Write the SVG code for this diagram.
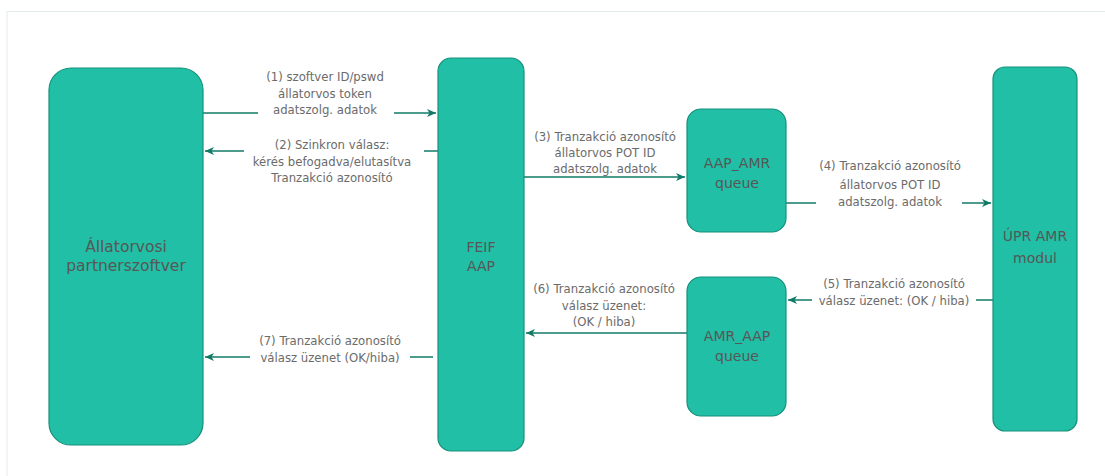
<svg xmlns="http://www.w3.org/2000/svg" width="1105" height="476" viewBox="0 0 1105 476">
<style>
.node{fill:#21bfa5;stroke:#16907c;stroke-width:1.2}
.nt{font-family:"DejaVu Sans","Liberation Sans",Arial,sans-serif;font-size:14px;fill:#575757;text-anchor:middle}
.edge{stroke:#117a67;stroke-width:1.3;fill:none}
.lbl{font-family:"DejaVu Sans","Liberation Sans",Arial,sans-serif;font-size:11.7px;fill:#6b6b6b;text-anchor:middle}
.bg{fill:#fff}
</style>
<defs>
<marker id="ah" markerWidth="10" markerHeight="8" refX="9" refY="4" orient="auto" markerUnits="userSpaceOnUse">
<path d="M0,0 L9,4 L0,8 L2.5,4 Z" fill="#117a67"/>
</marker>
</defs>
<rect x="0" y="0" width="1105" height="476" fill="#fff"/>
<rect x="7" y="11.5" width="1120" height="480" fill="none" stroke="#e3ebe9" stroke-width="1"/>

<g id="connectors">
<g id="e1"><path class="edge" d="M203,113 H436" marker-end="url(#ah)"/>
<rect class="bg" x="258" y="68" width="136" height="48"/>
<text class="lbl" x="325" y="81">(1) szoftver ID/pswd</text>
<text class="lbl" x="325" y="98">állatorvos token</text>
<text class="lbl" x="325" y="114">adatszolg. adatok</text></g>

<g id="e2"><path class="edge" d="M438,151 H205" marker-end="url(#ah)"/>
<rect class="bg" x="244" y="137" width="180" height="48"/>
<text class="lbl" x="332" y="149">(2) Szinkron válasz:</text>
<text class="lbl" x="332" y="166">kérés befogadva/elutasítva</text>
<text class="lbl" x="332" y="182">Tranzakció azonosító</text></g>

<g id="e3"><path class="edge" d="M524,177 H685" marker-end="url(#ah)"/>
<text class="lbl" x="605" y="141">(3) Tranzakció azonosító</text>
<text class="lbl" x="605" y="157">állatorvos POT ID</text>
<text class="lbl" x="605" y="173">adatszolg. adatok</text></g>

<g id="e4"><path class="edge" d="M786,203 H991" marker-end="url(#ah)"/>
<rect class="bg" x="816" y="156" width="146" height="50"/>
<text class="lbl" x="890" y="170">(4) Tranzakció azonosító</text>
<text class="lbl" x="890" y="189">állatorvos POT ID</text>
<text class="lbl" x="890" y="206">adatszolg. adatok</text></g>

<g id="e5"><path class="edge" d="M993,300 H788" marker-end="url(#ah)"/>
<rect class="bg" x="812" y="274" width="164" height="32"/>
<text class="lbl" x="894" y="288">(5) Tranzakció azonosító</text>
<text class="lbl" x="894" y="305">válasz üzenet: (OK / hiba)</text></g>

<g id="e6"><path class="edge" d="M687,333 H526" marker-end="url(#ah)"/>
<text class="lbl" x="604" y="293">(6) Tranzakció azonosító</text>
<text class="lbl" x="604" y="310">válasz üzenet:</text>
<text class="lbl" x="604" y="326">(OK / hiba)</text></g>

<g id="e7"><path class="edge" d="M433,357 H205" marker-end="url(#ah)"/>
<rect class="bg" x="250" y="331" width="160" height="32"/>
<text class="lbl" x="330" y="345">(7) Tranzakció azonosító</text>
<text class="lbl" x="330" y="362">válasz üzenet (OK/hiba)</text></g>
</g>

<g id="n1"><rect class="node" x="49" y="68" width="154" height="377" rx="22"/>
<text class="nt" x="126" y="252" style="font-size:15.5px">Állatorvosi</text>
<text class="nt" x="126" y="271" style="font-size:15.5px">partnerszoftver</text></g>

<g id="n2"><rect class="node" x="438" y="58" width="86" height="393" rx="13"/>
<text class="nt" x="481" y="252">FEIF</text>
<text class="nt" x="481" y="271">AAP</text></g>

<g id="n3"><rect class="node" x="687" y="109" width="99" height="123" rx="14"/>
<text class="nt" x="737" y="168">AAP_AMR</text>
<text class="nt" x="737" y="188">queue</text></g>

<g id="n4"><rect class="node" x="687" y="277" width="99" height="139" rx="14"/>
<text class="nt" x="737" y="341">AMR_AAP</text>
<text class="nt" x="737" y="361">queue</text></g>

<g id="n5"><rect class="node" x="993" y="67" width="84" height="364" rx="12"/>
<text class="nt" x="1035" y="241">ÚPR AMR</text>
<text class="nt" x="1035" y="263">modul</text></g>
</svg>
